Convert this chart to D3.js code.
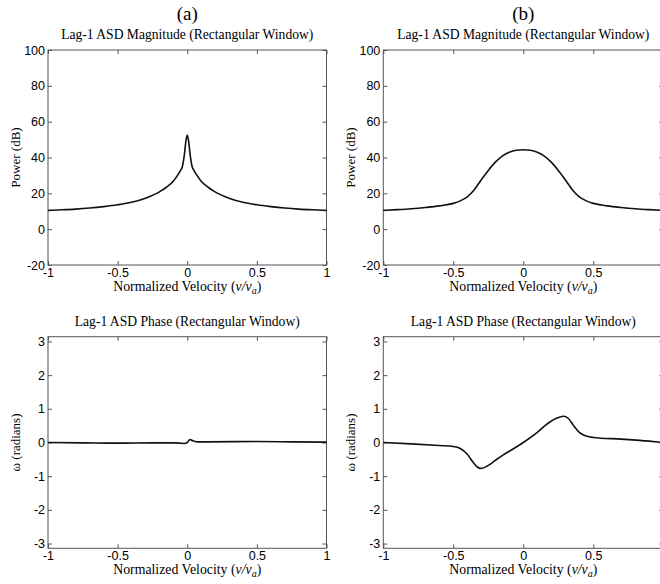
<!DOCTYPE html>
<html lang="en">
<head>
<meta charset="utf-8">
<title>Lag-1 ASD</title>
<script src="https://cdnjs.cloudflare.com/ajax/libs/d3/7.8.5/d3.min.js"></script>
<style>
body { margin: 0; background: #fff; }
.tick text { font-family: "Liberation Sans", Arial, sans-serif; font-size: 12.5px; fill: #000; }
.tick line { stroke: #555; }
.serif { font-family: "Liberation Serif", "Times New Roman", serif; fill: #000; }
</style>
</head>
<body>
<div id="plot"></div>
<script>
// normalized velocity grid + values
var magA_v  = [-1, -0.9, -0.8, -0.7, -0.6, -0.5, -0.4, -0.3, -0.2, -0.15, -0.1, -0.07, -0.05, -0.035, -0.02, -0.01, 0,
               0.01, 0.02, 0.035, 0.05, 0.07, 0.1, 0.15, 0.2, 0.3, 0.4, 0.5, 0.6, 0.7, 0.8, 0.9, 1];
var magA_db = [10.5, 10.8, 11.2, 11.8, 12.6, 13.6, 15.0, 17.3, 20.8, 23.4, 26.8, 30, 32.6, 35, 42, 49, 52.5,
               49, 42, 35, 32.6, 30, 26.8, 23.4, 20.8, 17.3, 15.0, 13.6, 12.6, 11.8, 11.2, 10.8, 10.5];

var magB_v  = [-1, -0.9, -0.8, -0.7, -0.6, -0.5, -0.45, -0.4, -0.35, -0.3, -0.25, -0.2, -0.15, -0.1, -0.05, 0,
               0.05, 0.1, 0.15, 0.2, 0.25, 0.3, 0.35, 0.4, 0.45, 0.5, 0.6, 0.7, 0.8, 0.9, 1];
var magB_db = [10.5, 10.9, 11.4, 12.1, 13.0, 14.4, 15.8, 18.0, 22.0, 27.6, 32.8, 37.4, 40.8, 42.9, 44.0, 44.3,
               44.0, 42.9, 40.8, 37.4, 32.8, 27.6, 22.0, 18.0, 15.8, 14.4, 13.0, 12.1, 11.4, 10.9, 10.5];

var phA_v   = [-1, -0.75, -0.5, -0.25, -0.1, -0.05, -0.02, 0, 0.02, 0.04, 0.07, 0.15, 0.5, 0.75, 1];
var phA_rad = [0.0, -0.01, -0.02, -0.01, -0.01, -0.02, -0.03, 0.0, 0.09, 0.05, 0.02, 0.02, 0.03, 0.02, 0.01];

var phB_v   = [-1, -0.8, -0.6, -0.5, -0.45, -0.4, -0.36, -0.33, -0.3, -0.25, -0.2, -0.14, -0.1, 0,
               0.1, 0.17, 0.25, 0.29, 0.32, 0.36, 0.4, 0.45, 0.5, 0.7, 0.9, 1];
var phB_rad = [0.0, -0.04, -0.09, -0.12, -0.18, -0.35, -0.58, -0.72, -0.77, -0.68, -0.53, -0.36, -0.26, 0.0,
               0.3, 0.55, 0.74, 0.78, 0.72, 0.5, 0.3, 0.19, 0.15, 0.1, 0.04, 0.0];

var magTicks = [100, 80, 60, 40, 20, 0, -20];
var phTicks  = [3, 2, 1, 0, -1, -2, -3];
var xTicksA  = [-1, -0.5, 0, 0.5, 1];
var xTicksB  = [-1, -0.5, 0, 0.5];

var width = 660, height = 584;

var svg = d3.select("#plot").append("svg")
    .attr("width", width)
    .attr("height", height);

var cols = [{x0: 48, x1: 326.5, label: "(a)", xt: xTicksA},
            {x0: 383.3, x1: 663.3, label: "(b)", xt: xTicksB}];
var rows = [{y0: 50, y1: 265, domain: [-20, 100], ticks: magTicks, title: "Lag-1 ASD Magnitude (Rectangular Window)", ylab: "Power (dB)"},
            {y0: 336.7, y1: 548.3, domain: [-Math.PI, Math.PI], ticks: phTicks, title: "Lag-1 ASD Phase (Rectangular Window)", ylab: "\u03c9 (radians)"}];

var series = [
    [[magA_v, magA_db], [magB_v, magB_db]],
    [[phA_v, phA_rad], [phB_v, phB_rad]]
];

rows.forEach(function(r, ri) {
    cols.forEach(function(c, ci) {
        var x = d3.scaleLinear().domain([-1, 1]).range([c.x0, c.x1]);
        var y = d3.scaleLinear().domain(r.domain).range([r.y1, r.y0]);

        // axes with inward ticks, matlab style box
        var gl = svg.append("g").attr("transform", "translate(" + c.x0 + ",0)")
            .call(d3.axisLeft(y).tickValues(r.ticks).tickSize(-4).tickPadding(3));
        var gb = svg.append("g").attr("transform", "translate(0," + r.y1 + ")")
            .call(d3.axisBottom(x).tickValues(c.xt).tickSize(-4).tickPadding(3).tickFormat(d3.format("")));
        var gr = svg.append("g").attr("transform", "translate(" + c.x1 + ",0)")
            .call(d3.axisRight(y).tickValues(r.ticks).tickSize(-4).tickFormat(""));
        var gt = svg.append("g").attr("transform", "translate(0," + r.y0 + ")")
            .call(d3.axisTop(x).tickValues(c.xt).tickSize(-4).tickFormat(""));
        [gl, gb, gr, gt].forEach(function(g) { g.select(".domain").remove(); });
        gl.selectAll(".tick text").text(function(d) { return d < 0 ? "-" + Math.abs(d) : d; });
        gb.selectAll(".tick text").text(function(d) { return d < 0 ? "-" + Math.abs(d) : d; });

        svg.append("rect")
            .attr("x", c.x0).attr("y", r.y0)
            .attr("width", c.x1 - c.x0).attr("height", r.y1 - r.y0)
            .attr("fill", "none").attr("stroke", "#555").attr("stroke-width", 1);

        var s = series[ri][ci];
        var pts = s[0].map(function(v, i) { return [v, s[1][i]]; });
        var line = d3.line()
            .x(function(d) { return x(d[0]); })
            .y(function(d) { return y(d[1]); })
            .curve(d3.curveMonotoneX);
        svg.append("path")
            .datum(pts)
            .attr("d", line)
            .attr("fill", "none")
            .attr("stroke", "#111")
            .attr("stroke-width", 1.6);

        var cx = ci === 0 ? (c.x0 + c.x1) / 2 : 523.3;

        // titles
        svg.append("text").attr("class", "serif")
            .attr("x", cx).attr("y", r.y0 - 11)
            .attr("text-anchor", "middle").style("font-size", "13.6px")
            .text(r.title);

        if (ri === 0) {
            svg.append("text").attr("class", "serif")
                .attr("x", cx).attr("y", 20)
                .attr("text-anchor", "middle").style("font-size", "19px")
                .text(c.label);
        }

        // x label with italic v / v_a
        var xl = svg.append("text").attr("class", "serif")
            .attr("x", cx).attr("y", r.y1 + 26)
            .attr("text-anchor", "middle").style("font-size", "13.8px");
        xl.append("tspan").text("Normalized Velocity (");
        xl.append("tspan").style("font-style", "italic").text("v/v");
        xl.append("tspan").style("font-style", "italic").style("font-size", "10px").attr("dy", 3).text("a");
        xl.append("tspan").attr("dy", -3).text(")");

        // y label
        svg.append("text").attr("class", "serif")
            .attr("transform", "translate(" + (c.x0 - 28) + "," + ((r.y0 + r.y1) / 2) + ") rotate(-90)")
            .attr("text-anchor", "middle").style("font-size", "13px")
            .text(r.ylab);
    });
});
</script>
</body>
</html>
